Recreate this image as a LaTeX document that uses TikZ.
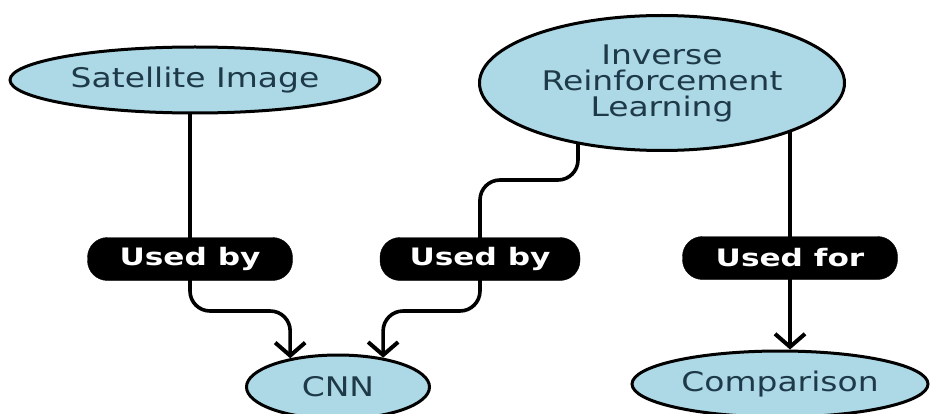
\documentclass[tikz,border=0pt]{standalone}
\usepackage{fontspec}
\usetikzlibrary{shapes.geometric,arrows.meta,backgrounds}
\newfontfamily\nodefont[FakeStretch=1.22]{DejaVu Sans}
\newfontfamily\labelfont[FakeStretch=1.3]{DejaVu Sans}
\definecolor{nodefill}{HTML}{ADD8E6}
\definecolor{nodetext}{HTML}{1E3A48}
\begin{document}
\begin{tikzpicture}[x=1pt,y=-1pt,
  concept/.style={ellipse, draw=black, line width=3pt, fill=nodefill, inner sep=0pt,
    text=nodetext, font=\nodefont\fontsize{27}{26}\selectfont, align=center},
  relbox/.style={rectangle, rounded corners=20pt, fill=black, draw=black, text=white,
    font=\labelfont\bfseries\fontsize{24}{28}\selectfont, minimum height=43pt, inner sep=0pt},
  conn/.style={line width=3.6pt, draw=black, rounded corners=20pt},
  arr/.style={conn, -{Straight Barb[length=13pt,width=30pt,line width=4pt]}}]
\useasboundingbox (0,0) rectangle (933,414);
\node[concept, minimum width=370pt, minimum height=66pt] (sat) at (195,80) {Satellite Image};
\node[concept, minimum width=365pt, minimum height=135pt] (irl) at (662,83) {Inverse\\Reinforcement\\Learning};
\node[relbox, minimum width=205pt] (u1) at (190,259) {Used by};
\node[relbox, minimum width=200pt] (u2) at (480,259) {Used by};
\node[relbox, minimum width=215pt] (u3) at (790,258) {Used for};
\node[concept, minimum width=183pt, minimum height=64pt] (cnn) at (338,387) {CNN};
\node[concept, minimum width=296pt, minimum height=66pt] (comp) at (780,384) {Comparison};
\begin{scope}[on background layer]
\draw[conn] (sat.center -| u1.center) -- (u1.center);
\draw[conn] ([xshift=-84pt]irl.center) -- ++(0,97) -| (u2.center);
\draw[conn] (u3.center |- irl.center) -- (u3.center);
\draw[arr] (u1.center) -- ++(0,52) -| (cnn.149);
\draw[arr] (u2.center) -- ++(0,52) -| (cnn.33);
\draw[arr] (u3.center) -- (u3.center |- comp.north);
\end{scope}
\end{tikzpicture}
\end{document}
